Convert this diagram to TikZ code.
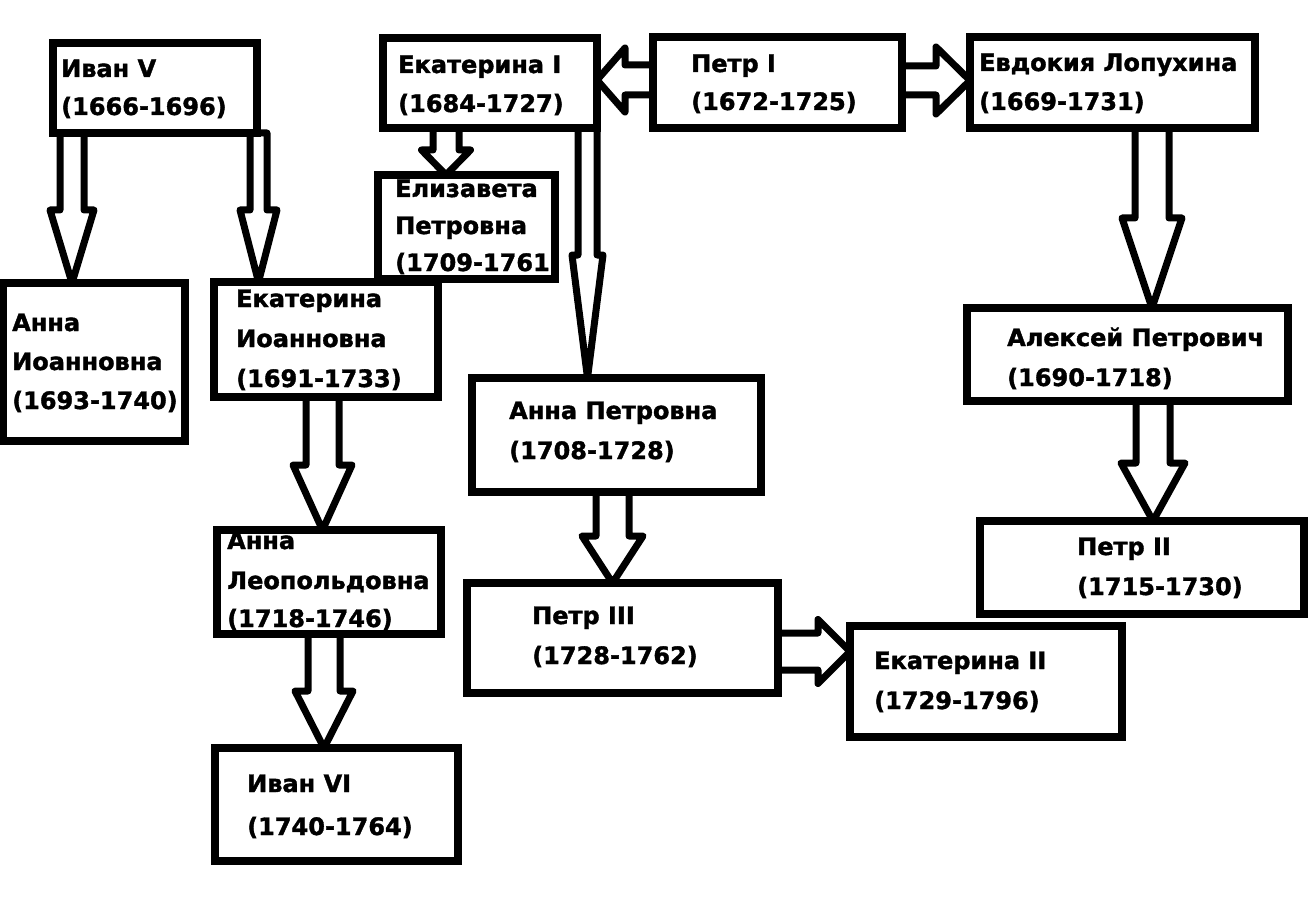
\documentclass[tikz,border=0pt]{standalone}
\usepackage{fontspec}
\setmainfont{DejaVu Sans}[BoldFeatures={FakeBold=1.5}]
\newcommand\darr[6]{% src dst xc shaft-half head-half head-y
  \draw[arr] (#3-#4,0 |- #1.south) -- (#3-#4,#6) -- (#3-#5,#6) -- (#3,0 |- #2.north)
    -- (#3+#5,#6) -- (#3+#4,#6) -- (#3+#4,0 |- #1.south) -- cycle;}
\newcommand\harr[6]{% src-anchor dst-anchor yc shaft-half head-half head-x
  \draw[arr] (#1 |- 0,#3-#4) -- (#6,#3-#4) -- (#6,#3-#5) -- (#2 |- 0,#3)
    -- (#6,#3+#5) -- (#6,#3+#4) -- (#1 |- 0,#3+#4) -- cycle;}
\pgfdeclarelayer{bg}
\pgfdeclarelayer{back}
\pgfsetlayers{bg,back,main}
\begin{document}
\begin{tikzpicture}[x=1pt,y=-1pt,
  box/.style 2 args={draw,fill=white,line width=8pt,inner sep=0pt,outer sep=0pt,
    minimum width=#1pt,minimum height=#2pt},
  bd/.style={draw,line width=8pt},
  arr/.style={draw,fill=white,line width=7pt,line join=round},
  txt/.style={anchor=base west,inner sep=0pt,font=\fontsize{24}{29}\selectfont\bfseries}]
\useasboundingbox (0,0) rectangle (1313,909);
\begin{pgfonlayer}{bg}
\fill[white] (0,0) rectangle (1313,909);
\end{pgfonlayer}

\node[box={204}{90}]  (ivan5) at (155,88) {};
\node[box={214}{90}]  (ekat1) at (490,83) {};
\node[box={249}{91}]  (petr1) at (777.5,82.5) {};
\node[box={285}{91}]  (evdok) at (1112.5,82.5) {};
\node[box={177}{104}] (eliz)  at (466.5,227) {};
\node[box={182}{158}] (annaI) at (94,362) {};
\node[box={224}{115}] (ekatI) at (326,339.5) {};
\node[box={289}{114}] (annaP) at (616.5,435) {};
\node[box={321}{93}]  (aleks) at (1127.5,354.5) {};
\node[box={224}{104}] (annaL) at (329,582) {};
\node[box={311}{110}] (petr3) at (622.5,638) {};
\node[box={324}{93}]  (petr2) at (1142,567.5) {};
\node[box={272}{111}] (ekat2) at (986,681.5) {};
\node[box={243}{113}] (ivan6) at (336.5,804.5) {};

\begin{pgfonlayer}{back}
\darr{ivan5}{annaI}{72}{12}{22}{210}
\darr{ivan5}{ekatI}{258.5}{8.5}{18.5}{210}
\darr{ekat1}{eliz}{446}{13}{24.5}{150}
\darr{ekat1}{annaP}{587.5}{9.5}{15.5}{255}
\darr{evdok}{aleks}{1152}{17}{30}{218}
\darr{aleks}{petr2}{1153}{17}{32}{463}
\darr{ekatI}{annaL}{322.5}{16.5}{29.5}{465}
\darr{annaL}{ivan6}{324}{16}{29}{691}
\darr{annaP}{petr3}{612.5}{16.5}{30.5}{536}
\harr{petr1.west}{ekat1.east}{80}{15}{32}{625}
\harr{petr1.east}{evdok.west}{80.5}{14.5}{33.5}{936}
\harr{petr3.east}{ekat2.west}{651.5}{18.5}{32}{818}
\end{pgfonlayer}

\node[txt] (t1a) at (61,77) {Иван V};
\node[txt] (t1b) at (61,115) {(1666-1696)};
\node[txt] (t2a) at (398,73) {Екатерина I};
\node[txt] (t2b) at (398,112) {(1684-1727)};
\node[txt] (t3a) at (691,72) {Петр I};
\node[txt] (t3b) at (691,110) {(1672-1725)};
\node[txt] (t4a) at (979,71) {Евдокия Лопухина};
\node[txt] (t4b) at (979,110) {(1669-1731)};
\begin{scope}
\clip (eliz.north west) rectangle (eliz.south east);
\node[txt] (t5a) at (395,197) {Елизавета};
\node[txt] (t5b) at (395,234) {Петровна};
\node[txt] (t5c) at (395,271) {(1709-1761)};
\end{scope}
\node[txt] (t6a) at (12,331) {Анна};
\node[txt] (t6b) at (12,370) {Иоанновна};
\node[txt] (t6c) at (12,409) {(1693-1740)};
\node[txt] (t7a) at (236,307) {Екатерина};
\node[txt] (t7b) at (236,347) {Иоанновна};
\node[txt] (t7c) at (236,387) {(1691-1733)};
\node[txt] (t8a) at (509,419) {Анна Петровна};
\node[txt] (t8b) at (509,459) {(1708-1728)};
\node[txt] (t9a) at (1007,346) {Алексей Петрович};
\node[txt] (t9b) at (1007,386) {(1690-1718)};
\node[txt] (t10a) at (227,549) {Анна};
\node[txt] (t10b) at (227,589) {Леопольдовна};
\node[txt] (t10c) at (227,627) {(1718-1746)};
\node[txt] (t11a) at (532,624) {Петр III};
\node[txt] (t11b) at (532,664) {(1728-1762)};
\node[txt] (t12a) at (1077,555) {Петр II};
\node[txt] (t12b) at (1077,595) {(1715-1730)};
\node[txt] (t13a) at (874,669) {Екатерина II};
\node[txt] (t13b) at (874,709) {(1729-1796)};
\node[txt] (t14a) at (247,792) {Иван VI};
\node[txt] (t14b) at (247,835) {(1740-1764)};

% borders over text that runs into them
\draw[bd] (eliz.north west) rectangle (eliz.south east);
\draw[bd] (annaL.north west) rectangle (annaL.south east);
\draw[bd] (ekatI.north west) rectangle (ekatI.south east);
\end{tikzpicture}
\end{document}
